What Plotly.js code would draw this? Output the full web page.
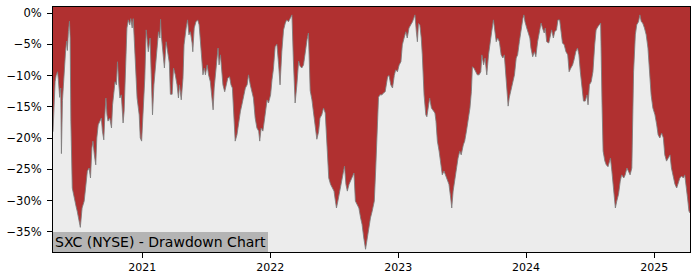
<!DOCTYPE html>
<html>
<head>
<meta charset="utf-8">
<script src="https://cdn.plot.ly/plotly-3.0.1.min.js"></script>
<style>html,body{margin:0;padding:0;background:#fff;}#chart{width:700px;height:280px;}</style>
</head>
<body>
<div id="chart"></div>
<script>
// Drawdown of SXC (NYSE), percent below running peak
const dates = [
"2020-04-21","2020-04-27","2020-04-30","2020-05-04","2020-05-06","2020-05-10","2020-05-13","2020-05-15","2020-05-18","2020-05-22",
"2020-05-27","2020-05-30","2020-06-01","2020-06-04","2020-06-07","2020-06-09","2020-06-11","2020-06-15","2020-06-20","2020-06-26",
"2020-06-29","2020-07-03","2020-07-08","2020-07-13","2020-07-19","2020-07-23","2020-07-28","2020-08-02","2020-08-06","2020-08-10",
"2020-08-13","2020-08-17","2020-08-21","2020-08-24","2020-08-28","2020-09-02","2020-09-06","2020-09-09","2020-09-13","2020-09-16",
"2020-09-19","2020-09-22","2020-09-25","2020-09-30","2020-10-05","2020-10-08","2020-10-12","2020-10-15","2020-10-19","2020-10-22",
"2020-10-26","2020-10-29","2020-11-02","2020-11-07","2020-11-10","2020-11-15","2020-11-18","2020-11-22","2020-11-26","2020-11-29",
"2020-12-03","2020-12-06","2020-12-08","2020-12-12","2020-12-17","2020-12-23","2020-12-26","2020-12-30",
"2021-01-04","2021-01-08","2021-01-12","2021-01-15","2021-01-18","2021-01-23","2021-01-27","2021-01-30","2021-02-03","2021-02-08",
"2021-02-13","2021-02-16","2021-02-20","2021-02-22","2021-02-24","2021-03-01","2021-03-05","2021-03-10","2021-03-14","2021-03-19",
"2021-03-22","2021-03-27","2021-03-31","2021-04-05","2021-04-10","2021-04-14","2021-04-17","2021-04-22","2021-04-27","2021-04-30",
"2021-05-06","2021-05-10","2021-05-14","2021-05-18","2021-05-23","2021-05-25","2021-05-29","2021-06-03","2021-06-08","2021-06-12",
"2021-06-15","2021-06-20","2021-06-23","2021-06-27","2021-06-30","2021-07-05","2021-07-09","2021-07-14","2021-07-19","2021-07-22",
"2021-07-25","2021-07-29","2021-08-02","2021-08-05","2021-08-08","2021-08-12","2021-08-15","2021-08-19","2021-08-24","2021-08-29",
"2021-09-02","2021-09-07","2021-09-11","2021-09-15","2021-09-18","2021-09-23","2021-09-28","2021-10-03","2021-10-08","2021-10-12",
"2021-10-17","2021-10-22","2021-10-27","2021-10-31","2021-11-05","2021-11-10","2021-11-14","2021-11-19","2021-11-24","2021-11-29",
"2021-12-02","2021-12-06","2021-12-11","2021-12-15","2021-12-18","2021-12-23","2021-12-27",
"2022-01-02","2022-01-06","2022-01-10","2022-01-15","2022-01-20","2022-01-25","2022-01-29","2022-02-03","2022-02-08","2022-02-13",
"2022-02-17","2022-02-22","2022-02-27","2022-03-04","2022-03-08","2022-03-13","2022-03-18","2022-03-23","2022-03-27","2022-04-01",
"2022-04-06","2022-04-11","2022-04-16","2022-04-20","2022-04-25","2022-04-30","2022-05-04","2022-05-09","2022-05-14","2022-05-19",
"2022-05-23","2022-05-28","2022-06-02","2022-06-07","2022-06-12","2022-06-17","2022-06-22","2022-06-27","2022-07-02","2022-07-06",
"2022-07-09","2022-07-13","2022-07-18","2022-07-23","2022-07-28","2022-08-01","2022-08-05","2022-08-09","2022-08-14","2022-08-18",
"2022-08-24","2022-08-28","2022-09-01","2022-09-06","2022-09-11","2022-09-16","2022-09-20","2022-09-25","2022-09-30","2022-10-05",
"2022-10-10","2022-10-14","2022-10-19","2022-10-25","2022-10-29","2022-11-02","2022-11-06","2022-11-10","2022-11-16","2022-11-20",
"2022-11-25","2022-12-02","2022-12-06","2022-12-11","2022-12-16","2022-12-21","2022-12-25","2022-12-30",
"2023-01-04","2023-01-09","2023-01-13","2023-01-18","2023-01-23","2023-01-27","2023-02-01","2023-02-06","2023-02-11","2023-02-16",
"2023-02-18","2023-02-22","2023-02-25","2023-02-28","2023-03-04","2023-03-08","2023-03-11","2023-03-16","2023-03-21","2023-03-24",
"2023-03-28","2023-04-01","2023-04-06","2023-04-11","2023-04-16","2023-04-19","2023-04-23","2023-04-28","2023-05-03","2023-05-07",
"2023-05-12","2023-05-17","2023-05-22","2023-05-26","2023-05-31","2023-06-03","2023-06-07","2023-06-12","2023-06-16","2023-06-21",
"2023-06-26","2023-06-30","2023-07-06","2023-07-10","2023-07-15","2023-07-20","2023-07-25","2023-07-29","2023-08-01","2023-08-06",
"2023-08-11","2023-08-15","2023-08-20","2023-08-25","2023-08-28","2023-09-02","2023-09-06","2023-09-11","2023-09-16","2023-09-20",
"2023-09-25","2023-09-30","2023-10-03","2023-10-08","2023-10-12","2023-10-17","2023-10-22","2023-10-27","2023-10-31","2023-11-03",
"2023-11-07","2023-11-11","2023-11-14","2023-11-19","2023-11-24","2023-11-29","2023-12-04","2023-12-08","2023-12-13","2023-12-18",
"2023-12-23","2023-12-26","2023-12-29",
"2024-01-03","2024-01-08","2024-01-12","2024-01-15","2024-01-20","2024-01-25","2024-01-29","2024-02-03","2024-02-08","2024-02-13",
"2024-02-17","2024-02-22","2024-02-25","2024-02-29","2024-03-06","2024-03-10","2024-03-14","2024-03-19","2024-03-23","2024-03-28",
"2024-04-01","2024-04-06","2024-04-10","2024-04-14","2024-04-19","2024-04-24","2024-04-29","2024-05-03","2024-05-08","2024-05-13",
"2024-05-17","2024-05-22","2024-05-27","2024-05-31","2024-06-04","2024-06-08","2024-06-13","2024-06-18","2024-06-23","2024-06-26",
"2024-06-30","2024-07-05","2024-07-10","2024-07-15","2024-07-19","2024-07-24","2024-07-29","2024-08-01","2024-08-05","2024-08-08",
"2024-08-13","2024-08-17","2024-08-22","2024-08-27","2024-08-29","2024-09-02","2024-09-07","2024-09-12","2024-09-16","2024-09-21",
"2024-09-26","2024-09-30","2024-10-06","2024-10-10","2024-10-15","2024-10-20","2024-10-24","2024-10-29","2024-11-03","2024-11-08",
"2024-11-12","2024-11-17","2024-11-21","2024-11-25","2024-11-29","2024-12-04","2024-12-09","2024-12-14","2024-12-19","2024-12-23",
"2024-12-28",
"2025-01-03","2025-01-08","2025-01-12","2025-01-17","2025-01-22","2025-01-27","2025-01-31","2025-02-05","2025-02-10","2025-02-15",
"2025-02-19","2025-02-24","2025-03-01","2025-03-06","2025-03-10","2025-03-15","2025-03-20","2025-03-25","2025-03-29","2025-04-02",
"2025-04-06","2025-04-10","2025-04-13"
];
const drawdown = [
-19.0,-11.0,-10.0,-9.4,-10.5,-13.5,-12.0,-22.5,-14.0,-9.4,
-6.0,-4.5,-6.0,-3.0,-1.3,-4.0,-17.3,-28.0,-29.6,-31.0,
-31.7,-32.8,-34.3,-31.2,-30.1,-28.0,-25.3,-24.8,-26.4,-21.6,
-20.5,-22.7,-24.3,-20.0,-17.9,-17.3,-16.8,-18.9,-20.3,-16.3,
-13.6,-16.3,-17.3,-16.8,-18.4,-14.7,-12.6,-11.0,-11.5,-7.8,
-11.5,-13.6,-13.1,-17.6,-15.7,-4.6,-2.4,-1.1,-1.9,-0.9,
-2.4,-0.9,-3.5,-8.3,-13.6,-16.3,-20.0,-20.5,
-15.2,-10.4,-2.7,-4.0,-6.2,-4.0,-11.5,-16.3,-11.5,-7.8,
-4.0,-3.0,-4.0,-1.0,-3.5,-6.7,-8.8,-4.6,-6.2,-8.0,
-13.0,-13.0,-8.8,-9.9,-11.5,-13.6,-11.5,-13.9,-10.4,-5.1,
-2.4,-1.1,-3.5,-3.0,-4.8,-6.2,-2.4,-1.4,-1.1,-1.9,
-4.0,-8.3,-9.9,-8.8,-9.9,-8.3,-9.9,-11.0,-14.1,-15.5,
-12.0,-9.4,-6.2,-5.6,-8.3,-6.7,-8.8,-11.5,-12.6,-11.0,
-10.4,-10.2,-11.5,-12.0,-16.3,-20.5,-19.5,-17.3,-15.7,-14.7,
-13.1,-12.0,-11.5,-9.9,-11.5,-12.6,-13.6,-16.8,-18.4,-18.9,
-20.5,-18.4,-18.9,-17.3,-16.0,-13.9,-14.4,
-13.1,-10.7,-9.0,-5.4,-5.0,-8.3,-11.5,-6.2,-2.7,-1.6,
-1.1,-1.4,-0.9,-0.3,-7.5,-14.4,-11.5,-7.7,-8.5,-8.8,
-8.3,-6.0,-4.3,-3.2,-12.4,-13.9,-15.5,-17.6,-20.2,-19.0,
-16.8,-16.3,-15.2,-16.0,-21.0,-26.4,-27.4,-28.0,-28.5,-30.1,
-31.2,-30.1,-28.5,-27.4,-25.9,-24.5,-27.4,-28.5,-27.4,-26.9,
-25.9,-25.6,-30.1,-30.6,-31.2,-32.8,-33.8,-36.0,-37.8,-36.0,
-33.8,-32.8,-31.7,-30.1,-25.0,-20.0,-13.5,-13.1,-13.1,-12.8,
-12.6,-10.2,-10.0,-11.5,-12.0,-10.0,-9.1,-9.4,
-8.3,-7.8,-5.1,-4.0,-3.0,-4.0,-2.4,-1.9,-1.4,-0.6,
-0.3,-3.0,-4.6,-1.7,-1.9,-4.0,-6.7,-13.1,-16.3,-16.6,
-15.2,-13.6,-15.2,-15.7,-16.0,-17.3,-20.5,-22.1,-24.8,-25.9,
-25.3,-26.1,-26.9,-27.4,-29.6,-31.2,-28.5,-26.4,-24.8,-23.2,
-22.1,-22.7,-21.1,-20.5,-18.9,-17.3,-15.2,-12.6,-8.6,-8.9,
-9.4,-9.9,-9.9,-9.4,-6.7,-8.3,-7.2,-9.9,-6.7,-4.6,
-3.0,-1.1,-2.4,-4.6,-4.0,-4.6,-6.7,-7.2,-6.7,-8.8,
-11.5,-14.9,-13.6,-12.3,-11.0,-9.9,-7.2,-6.7,-4.6,-2.4,
-0.9,-0.3,-1.4,
-2.4,-3.2,-4.0,-5.6,-7.0,-6.2,-7.0,-4.6,-3.0,-1.6,
-2.4,-3.2,-2.4,-4.6,-4.8,-3.5,-2.7,-4.0,-3.0,-2.7,
-1.1,-1.1,-3.0,-4.8,-5.1,-6.2,-6.7,-9.4,-8.8,-8.3,
-7.5,-6.2,-5.6,-6.7,-9.4,-12.0,-14.1,-14.1,-13.1,-14.7,
-11.5,-11.0,-9.4,-5.1,-2.7,-2.2,-1.9,-1.6,-14.7,-22.1,
-23.7,-24.3,-24.6,-23.7,-23.2,-25.3,-28.5,-31.2,-30.1,-29.0,
-26.9,-25.9,-26.4,-25.9,-24.8,-25.3,-25.9,-24.8,-9.4,-3.5,
-1.9,-1.4,-0.3,-1.4,-1.6,-2.4,-3.5,-5.6,-9.4,-13.1,
-15.2,
-16.3,-17.9,-19.5,-20.0,-19.2,-20.0,-22.7,-23.7,-23.2,-22.7,
-24.8,-26.4,-27.4,-28.0,-27.4,-26.4,-26.1,-26.4,-25.9,-27.4,
-29.6,-31.7,-32.0
];
const yTickVals = [0, -5, -10, -15, -20, -25, -30, -35];
const yTickText = ["0%", "\u22125%", "\u221210%", "\u221215%", "\u221220%", "\u221225%", "\u221230%", "\u221235%"];
const xTickVals = ["2021-01-01", "2022-01-01", "2023-01-01", "2024-01-01", "2025-01-01"];
const xTickText = ["2021", "2022", "2023", "2024", "2025"];
const chartTitle = "SXC (NYSE) - Drawdown Chart";
const yMin = -38.24, yMax = 0.96;

const FONT = "DejaVu Sans, Liberation Sans, sans-serif";
const RED = "#b03030";

const trace = {
  x: dates, y: drawdown, type: "scatter", mode: "lines",
  fill: "tozeroy", fillcolor: RED,
  line: {color: "rgba(125,125,125,0.85)", width: 1},
  hoverinfo: "skip"
};

const layout = {
  width: 700, height: 280,
  margin: {l: 53, r: 10, t: 7, b: 28, pad: 0},
  paper_bgcolor: "#ffffff",
  plot_bgcolor: "#ececec",
  showlegend: false,
  font: {family: FONT, size: 11, color: "#000"},
  xaxis: {
    type: "date", range: [dates[0], dates[dates.length - 1]],
    tickmode: "array", tickvals: xTickVals, ticktext: xTickText,
    ticks: "outside", ticklen: 5, tickwidth: 1, tickcolor: "#000",
    showline: true, mirror: true, linecolor: "#000", linewidth: 1,
    showgrid: false, zeroline: false,
    tickfont: {family: FONT, size: 11, color: "#000"}
  },
  yaxis: {
    range: [yMin, yMax],
    tickmode: "array", tickvals: yTickVals, ticktext: yTickText,
    ticks: "outside", ticklen: 5, tickwidth: 1, tickcolor: "#000",
    ticklabelstandoff: 3,
    showline: true, mirror: true, linecolor: "#000", linewidth: 1,
    showgrid: false, zeroline: false,
    tickfont: {family: FONT, size: 11.5, color: "#000"}
  },
  shapes: [{
    type: "rect", layer: "below", xref: "paper", x0: 0, x1: 1,
    yref: "y", y0: 0, y1: yMax, fillcolor: RED, line: {width: 0}
  }],
  annotations: [{
    text: chartTitle, xref: "paper", yref: "paper", x: 0, y: 0,
    xanchor: "left", yanchor: "bottom", showarrow: false,
    bgcolor: "#b4b4b4", borderpad: 2, borderwidth: 0,
    font: {family: FONT, size: 14, color: "#000"}
  }]
};

Plotly.newPlot("chart", [trace], layout, {staticPlot: true, displayModeBar: false});
</script>
</body>
</html>
